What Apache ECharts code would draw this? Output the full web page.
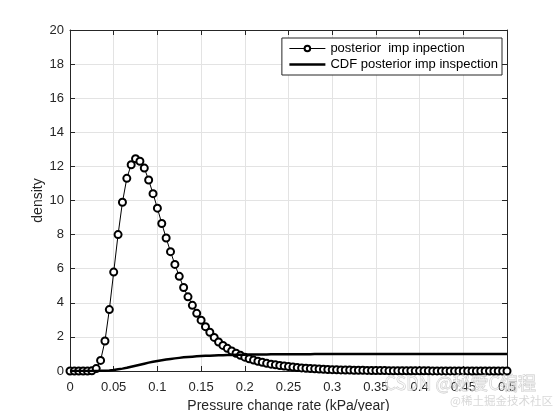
<!DOCTYPE html>
<html>
<head>
<meta charset="utf-8">
<script src="https://cdn.jsdelivr.net/npm/echarts@6/dist/echarts.min.js"></script>
<style>html,body{margin:0;padding:0;background:#fff;}#c{width:558px;height:411px;}</style>
</head>
<body>
<div id="c"></div>
<script>
var xValues = [0,0.005,0.01,0.015,0.02,0.025,0.03,0.035,0.04,0.045,
0.05,0.055,0.06,0.065,0.07,0.075,0.08,0.085,0.09,0.095,
0.1,0.105,0.11,0.115,0.12,0.125,0.13,0.135,0.14,0.145,
0.15,0.155,0.16,0.165,0.17,0.175,0.18,0.185,0.19,0.195,
0.2,0.205,0.21,0.215,0.22,0.225,0.23,0.235,0.24,0.245,
0.25,0.255,0.26,0.265,0.27,0.275,0.28,0.285,0.29,0.295,
0.3,0.305,0.31,0.315,0.32,0.325,0.33,0.335,0.34,0.345,
0.35,0.355,0.36,0.365,0.37,0.375,0.38,0.385,0.39,0.395,
0.4,0.405,0.41,0.415,0.42,0.425,0.43,0.435,0.44,0.445,
0.45,0.455,0.46,0.465,0.47,0.475,0.48,0.485,0.49,0.495,0.5];

var densityValues = [0,0,0,0,0,0.01,0.14,0.62,1.76,3.6,
5.8,8.0,9.9,11.3,12.1,12.45,12.3,11.9,11.2,10.4,
9.55,8.65,7.8,7.0,6.25,5.55,4.9,4.35,3.85,3.38,
2.98,2.6,2.27,1.97,1.7,1.5,1.33,1.17,1.04,0.92,
0.81,0.72,0.64,0.57,0.51,0.45,0.40,0.36,0.32,0.29,
0.26,0.23,0.2,0.18,0.16,0.14,0.13,0.12,0.1,0.09,
0.08,0.07,0.065,0.058,0.052,0.047,0.042,0.038,0.034,0.03,
0.027,0.025,0.022,0.02,0.018,0.016,0.015,0.013,0.012,0.011,
0.01,0.009,0.008,0.007,0.007,0.006,0.006,0.005,0.005,0.004,
0.004,0.004,0.003,0.003,0.003,0.003,0.002,0.002,0.002,0.002,0.002];

var cdfValues = [0,0,0,0,0,0,0.003,0.01,0.02,0.035,
0.06,0.1,0.14,0.19,0.25,0.31,0.37,0.43,0.49,0.54,
0.59,0.63,0.67,0.71,0.74,0.77,0.8,0.82,0.84,0.86,
0.875,0.89,0.9,0.91,0.92,0.93,0.937,0.943,0.949,0.954,
0.958,0.962,0.966,0.969,0.972,0.974,0.976,0.978,0.98,0.982,
0.983,0.985,0.986,0.987,0.988,0.989,0.99,0.991,0.992,0.993,
0.993,0.994,0.994,0.995,0.995,0.996,0.996,0.996,0.997,0.997,
0.997,0.997,0.998,0.998,0.998,0.998,0.998,0.998,0.999,0.999,
0.999,0.999,0.999,0.999,0.999,0.999,0.999,0.999,0.999,0.999,
0.999,0.999,0.999,1,1,1,1,1,1,1,1];

var seriesNames = ['posterior  imp inpection', 'CDF posterior imp inspection'];
var xLabelText = 'Pressure change rate (kPa/year)';
var yLabelText = 'density';

var FONT = '"Liberation Sans", Arial, sans-serif';
var TXT = '#262626';
var GRIDC = '#e3e3e3';

function pairs(xs, ys) { return xs.map(function (x, i) { return [x, ys[i]]; }); }

var chart = echarts.init(document.getElementById('c'), null, {renderer: 'canvas'});
var baseX = {
  type: 'value', min: 0, max: 0.5, interval: 0.05
};
chart.setOption({
  animation: false,
  backgroundColor: '#fff',
  grid: {left: 70, right: 51, top: 30, bottom: 40, show: false, outerBoundsMode: 'none', containLabel: false},
  legend: {
    orient: 'vertical', right: 56, top: 38,
    backgroundColor: '#fff', borderColor: '#262626', borderWidth: 1,
    padding: [4, 4, 4, 7], itemGap: 3, itemWidth: 36, itemHeight: 7,
    textStyle: {fontFamily: FONT, fontSize: 13, color: '#000'},
    data: [
      {name: seriesNames[0], lineStyle: {width: 1}, itemStyle: {borderWidth: 1}},
      {name: seriesNames[1], icon: 'path://M0,0H36V2.6H0Z'}
    ]
  },
  xAxis: [
    Object.assign({}, baseX, {
      position: 'bottom',
      name: xLabelText, nameLocation: 'middle', nameGap: 26,
      nameTextStyle: {fontFamily: FONT, fontSize: 14, color: TXT},
      axisLine: {show: true, onZero: false, lineStyle: {color: TXT, width: 1}},
      axisTick: {show: true, inside: true, length: 5, lineStyle: {color: TXT}},
      axisLabel: {margin: 10, fontFamily: FONT, fontSize: 13, color: TXT,
        formatter: function (v) { return String(Math.round(v * 1000) / 1000); }},
      splitLine: {show: true, lineStyle: {color: GRIDC, width: 1}}
    }),
    Object.assign({}, baseX, {
      position: 'top',
      axisLine: {show: true, onZero: false, lineStyle: {color: TXT, width: 1}},
      axisTick: {show: true, inside: true, length: 5, lineStyle: {color: TXT}},
      axisLabel: {show: false}, splitLine: {show: false}
    })
  ],
  yAxis: [
    {
      type: 'value', min: 0, max: 20, interval: 2, position: 'left',
      name: yLabelText, nameLocation: 'middle', nameGap: 25, nameMoveOverlap: false,
      nameTextStyle: {fontFamily: FONT, fontSize: 14, color: TXT},
      axisLine: {show: true, onZero: false, lineStyle: {color: TXT, width: 1}},
      axisTick: {show: true, inside: true, length: 5, lineStyle: {color: TXT}},
      axisLabel: {margin: 6, fontFamily: FONT, fontSize: 13, color: TXT},
      splitLine: {show: true, lineStyle: {color: GRIDC, width: 1}}
    },
    {
      type: 'value', min: 0, max: 20, interval: 2, position: 'right',
      axisLine: {show: true, onZero: false, lineStyle: {color: TXT, width: 1}},
      axisTick: {show: true, inside: true, length: 5, lineStyle: {color: TXT}},
      axisLabel: {show: false}, splitLine: {show: false}
    }
  ],
  series: [
    {
      name: seriesNames[0], type: 'line', xAxisIndex: 0, yAxisIndex: 0,
      data: pairs(xValues, densityValues),
      symbol: 'emptyCircle', symbolSize: 7, showAllSymbol: true,
      lineStyle: {color: '#000', width: 1},
      itemStyle: {color: '#000', borderColor: '#000', borderWidth: 1},
      z: 3
    },
    {
      name: seriesNames[1], type: 'line', xAxisIndex: 0, yAxisIndex: 0,
      data: pairs(xValues, cdfValues),
      symbol: 'none', showSymbol: false,
      lineStyle: {color: '#000', width: 2.5},
      itemStyle: {color: '#000'},
      z: 4
    }
  ],
  graphic: [
    {type: 'text', left: 384, top: 374, z: 100, style: {text: 'CSDN @秘爱C编程', fontFamily: '"Noto Sans CJK SC", "Liberation Sans", sans-serif', fontSize: 18, fill: 'rgba(255,255,255,0.55)', stroke: 'rgba(160,160,160,0.6)', lineWidth: 0.8}},
    {type: 'text', left: 450, top: 395, z: 100, style: {text: '@稀土掘金技术社区', fontFamily: '"Noto Sans CJK SC", sans-serif', fontSize: 11.5, fill: 'rgba(200,200,200,0.7)'}}
  ]
});
</script>
</body>
</html>
